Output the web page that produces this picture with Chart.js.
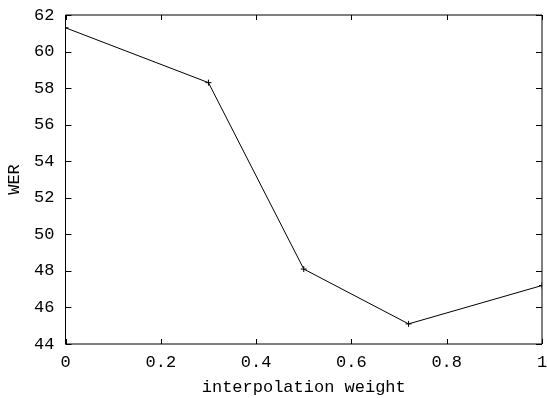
<!DOCTYPE html>
<html>
<head>
<meta charset="utf-8">
<script src="https://cdn.jsdelivr.net/npm/chart.js@4/dist/chart.umd.min.js"></script>
<style>
  html, body { margin: 0; padding: 0; background: #fff; }
  #wrap { width: 547px; height: 398px; }
</style>
</head>
<body>
<div id="wrap"><canvas id="chart"></canvas></div>
<script>
// interpolation weight vs WER
var weights = [0, 0.3, 0.5, 0.72, 1];
var wer = [61.3, 58.3, 48.1, 45.1, 47.2];
var xTicks = [0, 0.2, 0.4, 0.6, 0.8, 1];
var yTicks = [44, 46, 48, 50, 52, 54, 56, 58, 60, 62];

var points = weights.map(function(w, i) {
  return { x: w, y: wer[i] };
});

var monoFont = { family: "'Liberation Mono', 'DejaVu Sans Mono', monospace", size: 17 };

// gnuplot style frame with ticks pointing inward
var framePlugin = {
  id: 'frame',
  afterDraw: function(chart) {
    var ctx = chart.ctx;
    var a = chart.chartArea;
    var xs = chart.scales.x, ys = chart.scales.y;
    ctx.save();
    ctx.strokeStyle = '#000';
    ctx.lineWidth = 1;
    ctx.beginPath();
    ctx.rect(a.left, a.top, a.right - a.left, a.bottom - a.top);
    xTicks.forEach(function(v) {
      var px = Math.round(xs.getPixelForValue(v)) + 0.5;
      ctx.moveTo(px, a.bottom); ctx.lineTo(px, a.bottom - 5);
      ctx.moveTo(px, a.top); ctx.lineTo(px, a.top + 5);
    });
    yTicks.forEach(function(v) {
      var py = Math.round(ys.getPixelForValue(v)) + 0.5;
      ctx.moveTo(a.left, py); ctx.lineTo(a.left + 6, py);
      ctx.moveTo(a.right, py); ctx.lineTo(a.right - 6, py);
    });
    ctx.stroke();
    ctx.restore();
  }
};

var ctx = document.getElementById('chart').getContext('2d');
var chart = new Chart(ctx, {
  type: 'scatter',
  data: {
    datasets: [{
      data: points,
      showLine: true,
      borderColor: '#000',
      borderWidth: 1,
      pointStyle: 'cross',
      pointRadius: 3,
      pointBorderColor: '#000',
      pointBorderWidth: 1,
      tension: 0
    }]
  },
  options: {
    responsive: true,
    maintainAspectRatio: false,
    animation: false,
    layout: { padding: { top: 15, right: 4, left: 0, bottom: 0 } },
    plugins: {
      legend: { display: false },
      tooltip: { enabled: false }
    },
    scales: {
      x: {
        type: 'linear',
        min: 0,
        max: 1,
        afterBuildTicks: function(scale) {
          scale.ticks = xTicks.map(function(v) { return { value: v }; });
        },
        afterFit: function(scale) {
          scale.height = 54;
          scale.paddingLeft = 0;
          scale.paddingRight = 0;
        },
        grid: { display: false, drawTicks: false },
        border: { display: false },
        ticks: {
          color: '#000', font: monoFont, padding: 8, maxRotation: 0,
          callback: function(v) { return String(Math.round(v * 10) / 10); }
        },
        title: {
          display: true,
          text: 'interpolation weight',
          color: '#000',
          font: monoFont,
          padding: { top: 0, bottom: 0 }
        }
      },
      y: {
        min: 44,
        max: 62,
        afterBuildTicks: function(scale) {
          scale.ticks = yTicks.map(function(v) { return { value: v }; });
        },
        afterFit: function(scale) {
          scale.width = 65.5;
          scale.paddingTop = 0;
          scale.paddingBottom = 0;
        },
        grid: { display: false, drawTicks: false },
        border: { display: false },
        ticks: { color: '#000', font: monoFont, padding: 11 },
        title: {
          display: true,
          text: 'WER',
          color: '#000',
          font: monoFont,
          padding: { top: 4, bottom: 0 }
        }
      }
    }
  },
  plugins: [framePlugin]
});
</script>
</body>
</html>
